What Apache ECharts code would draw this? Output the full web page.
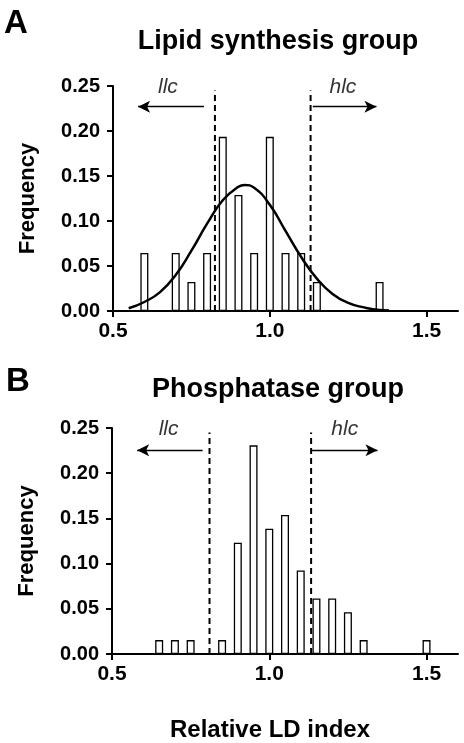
<!DOCTYPE html>
<html><head><meta charset="utf-8">
<script src="https://cdn.jsdelivr.net/npm/echarts@6/dist/echarts.min.js"></script>
<style>html,body{margin:0;padding:0;background:#fff}#c{width:464px;height:743px}</style>
</head><body><div id="c"></div>
<script>
// Panel A: Lipid synthesis group
const binsA = [0.60,0.70,0.75,0.80,0.85,0.90,0.95,1.00,1.05,1.10,1.15,1.35];
const freqA = [0.0645,0.0645,0.0323,0.0645,0.1935,0.1290,0.0645,0.1935,0.0645,0.0645,0.0323,0.0323];
const curveX = [0.55,0.60,0.65,0.70,0.75,0.80,0.85,0.90,0.92,0.95,1.00,1.05,1.10,1.15,1.20,1.25,1.30,1.35,1.38];
const curveY = [0.003,0.010,0.021,0.040,0.067,0.097,0.123,0.138,0.140,0.137,0.118,0.089,0.060,0.036,0.019,0.009,0.004,0.001,0.0005];
const cutA = [0.825,1.13];
// Panel B: Phosphatase group
const binsB = [0.65,0.70,0.75,0.85,0.90,0.95,1.00,1.05,1.10,1.15,1.20,1.25,1.30,1.50];
const freqB = [0.0154,0.0154,0.0154,0.0154,0.1231,0.2308,0.1385,0.1538,0.0923,0.0615,0.0615,0.0462,0.0154,0.0154];
const cutB = [0.81,1.133];
// axis ticks
const xTicks = [0.5,1.0,1.5];
const titles = ['Lipid synthesis group','Phosphatase group'];
const panelLetters = ['A','B'];
const regionLabels = ['llc','hlc'];
const xName = 'Relative LD index';
const yName = 'Frequency';

const FF = '"Liberation Sans", Arial, sans-serif';
const chart = echarts.init(document.getElementById('c'));

function xAxis(gi){
  return {
    type:'value', gridIndex:gi, min:0.5, max:1.6,
    axisLine:{show:true, lineStyle:{color:'#000', width:2}},
    axisTick:{show:true, length:6, lineStyle:{color:'#000', width:2}, customValues:xTicks},
    axisLabel:{show:true, customValues:xTicks, formatter:v=>v.toFixed(1), color:'#000', fontSize:21, fontWeight:'bold', fontFamily:FF, margin:10},
    splitLine:{show:false}
  };
}
function yAxis(gi){
  return {
    type:'value', gridIndex:gi, min:0, max:0.25, interval:0.05,
    axisLine:{show:true, lineStyle:{color:'#000', width:2}},
    axisTick:{show:true, length:6, lineStyle:{color:'#000', width:2}},
    axisLabel:{color:'#000', fontSize:20, fontWeight:'bold', fontFamily:FF, margin:13, formatter:v=>v.toFixed(2)},
    splitLine:{show:false},
    name:yName, nameLocation:'middle', nameGap:74, nameRotate:90,
    nameTextStyle:{color:'#000', fontSize:22, fontWeight:'bold', fontFamily:FF}
  };
}
function barSeries(gi, bins, freq){
  return {type:'bar', xAxisIndex:gi, yAxisIndex:gi, barWidth:8, silent:true,
    data: bins.map((b,i)=>[b,freq[i]]),
    itemStyle:{color:'#fff', borderColor:'#000', borderWidth:1.3}, z:2};
}
function dashSeries(gi, x, top){
  return {type:'line', xAxisIndex:gi, yAxisIndex:gi, symbol:'none', silent:true,
    data:[[x,0],[x,top]], lineStyle:{color:'#000', width:2, type:[6,4]}, z:4};
}
function arrowSeries(gi, x1, x2, y){
  return {type:'line', xAxisIndex:gi, yAxisIndex:gi, symbol:'none', silent:true, data:[],
    markLine:{silent:true, symbol:['none','arrow'], symbolSize:[9,12], label:{show:false},
      lineStyle:{color:'#000', width:1.3, type:'solid'},
      data:[[{coord:[x1,y]},{coord:[x2,y]}]]}};
}
function labelSeries(gi, pts){
  return {type:'scatter', xAxisIndex:gi, yAxisIndex:gi, symbolSize:0, silent:true,
    data: pts.map(p=>({value:[p[0],p[1]], label:{show:true, position:'inside', formatter:p[2], color:'#000', fontSize:21, fontStyle:'italic', fontFamily:FF}}))};
}

const option = {
  animation:false,
  backgroundColor:'#fff',
  grid:[
    {left:113, width:345, top:86, height:225},
    {left:112, width:346, top:428, height:226}
  ],
  xAxis:[xAxis(0), xAxis(1)],
  yAxis:[yAxis(0), yAxis(1)],
  graphic:[
    {type:'text', style:{text:panelLetters[0], x:4, y:7, font:'bold 33px '+FF, fill:'#000'}},
    {type:'text', style:{text:panelLetters[1], x:6, y:365, font:'bold 33px '+FF, fill:'#000'}},
    {type:'text', style:{text:titles[0], x:278, y:42, textAlign:'center', textVerticalAlign:'middle', font:'bold 27px '+FF, fill:'#000'}},
    {type:'text', style:{text:titles[1], x:278, y:390, textAlign:'center', textVerticalAlign:'middle', font:'bold 27px '+FF, fill:'#000'}},
    {type:'text', style:{text:xName, x:270, y:730, textAlign:'center', textVerticalAlign:'middle', font:'bold 24px '+FF, fill:'#000'}}
  ],
  series:[
    barSeries(0, binsA, freqA),
    {type:'line', xAxisIndex:0, yAxisIndex:0, symbol:'none', smooth:true, silent:true,
      data: curveX.map((x,i)=>[x,curveY[i]]), lineStyle:{color:'#000', width:2.5}, z:5},
    dashSeries(0, cutA[0], 0.245),
    dashSeries(0, cutA[1], 0.245),
    arrowSeries(0, 0.79, 0.58, 0.227),
    arrowSeries(0, 1.137, 1.34, 0.227),
    labelSeries(0, [[0.675,0.249,regionLabels[0]],[1.233,0.249,regionLabels[1]]]),
    barSeries(1, binsB, freqB),
    dashSeries(1, cutB[0], 0.245),
    dashSeries(1, cutB[1], 0.245),
    arrowSeries(1, 0.788, 0.58, 0.2253),
    arrowSeries(1, 1.133, 1.344, 0.2253),
    labelSeries(1, [[0.68,0.249,regionLabels[0]],[1.24,0.249,regionLabels[1]]])
  ]
};
chart.setOption(option);
</script>
</body></html>
